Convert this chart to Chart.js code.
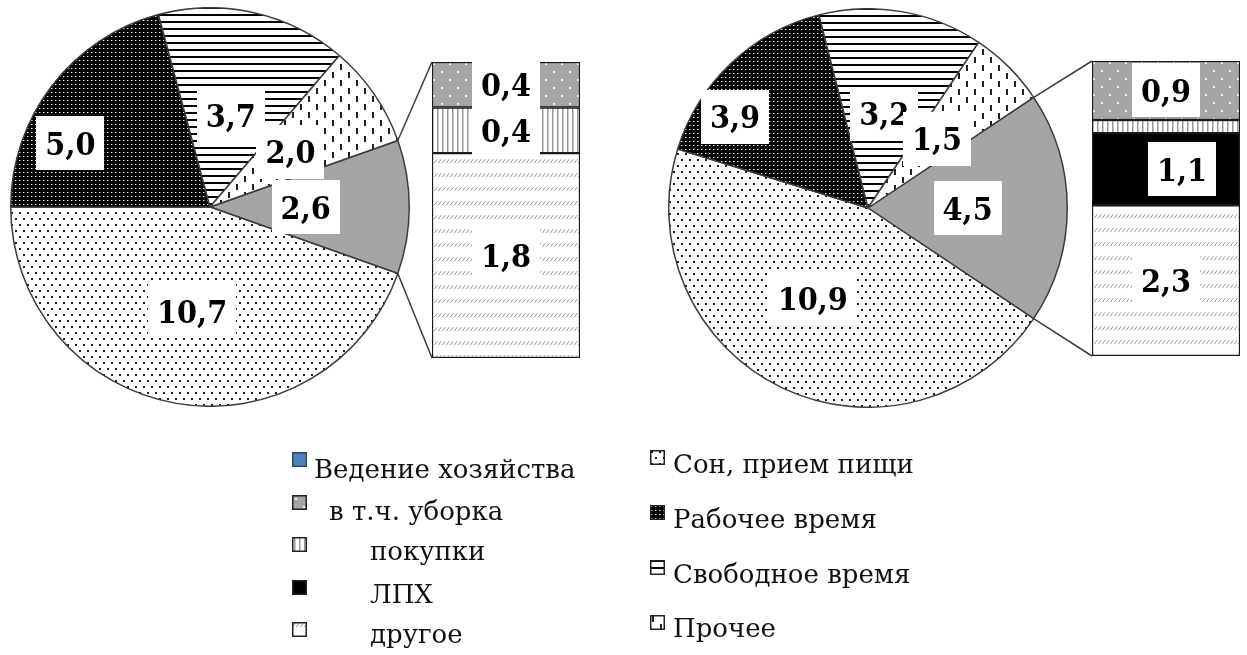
<!DOCTYPE html>
<html><head><meta charset="utf-8">
<script src="https://cdn.jsdelivr.net/npm/chart.js@4.4.1/dist/chart.umd.min.js"></script>
<style>
html,body{margin:0;padding:0;background:#fff;}
#page{position:relative;width:1247px;height:655px;overflow:hidden;background:#fff;}
#page canvas{position:absolute;}
.lg{position:absolute;font-family:"DejaVu Serif",serif;font-size:26px;line-height:26px;color:#111;white-space:nowrap;}
</style>
</head><body>
<div id="page">
  <canvas id="pieL" width="400" height="400" style="left:10px;top:7px;width:400px;height:400px"></canvas>
  <canvas id="barL" width="152" height="300" style="left:430px;top:60px;width:152px;height:300px"></canvas>
  <canvas id="pieR" width="400" height="400" style="left:668px;top:8px;width:400px;height:400px"></canvas>
  <canvas id="barR" width="152" height="299" style="left:1090px;top:59px;width:152px;height:299px"></canvas>
  <canvas id="links" width="1247" height="655" style="left:0;top:0;width:1247px;height:655px;pointer-events:none"></canvas>
</div>
<script>
// ---------- data ----------
const pieCategories = ['Ведение хозяйства', 'Сон, прием пищи', 'Рабочее время', 'Свободное время', 'Прочее'];
const pieLeftValues  = [2.6, 10.7, 5.0, 3.7, 2.0];
const pieRightValues = [4.5, 10.9, 3.9, 3.2, 1.5];
const barCategories  = ['в т.ч. уборка', 'покупки', 'ЛПХ', 'другое'];
const barLeftValues  = [0.4, 0.4, 0, 1.8];
const barRightValues = [0.9, 0.2, 1.1, 2.3];

// ---------- patterns ----------
function makePattern(w, h, draw) {
  const c = document.createElement('canvas');
  c.width = w; c.height = h;
  const g = c.getContext('2d');
  draw(g, w, h);
  return g.createPattern(c, 'repeat');
}
const fills = {
  'Ведение хозяйства': '#a5a5a5',
  'Сон, прием пищи': makePattern(8, 12, (g, w, h) => {
    g.fillStyle = '#fff'; g.fillRect(0, 0, w, h);
    g.fillStyle = '#1e1e1e'; g.fillRect(1, 1, 2, 2); g.fillRect(5, 7, 2, 2);
  }),
  'Рабочее время': makePattern(4, 4, (g, w, h) => {
    g.fillStyle = '#000'; g.fillRect(0, 0, w, h);
    g.fillStyle = '#fff'; g.fillRect(1, 1, 1, 1);
    g.fillStyle = '#6a6a6a'; g.fillRect(2, 1, 1, 1);
  }),
  'Свободное время': makePattern(8, 7, (g, w, h) => {
    g.fillStyle = '#fff'; g.fillRect(0, 0, w, h);
    g.fillStyle = '#000'; g.fillRect(0, 0, w, 2);
  }),
  'Прочее': makePattern(16, 16, (g, w, h) => {
    g.fillStyle = '#fff'; g.fillRect(0, 0, w, h);
    g.fillStyle = '#222'; g.fillRect(2, 1, 2, 6); g.fillRect(10, 9, 2, 6);
  }),
  'в т.ч. уборка': makePattern(16, 16, (g, w, h) => {
    g.fillStyle = '#a5a5a5'; g.fillRect(0, 0, w, h);
    g.fillStyle = '#f2f2f2'; g.fillRect(3, 3, 2, 2); g.fillRect(11, 11, 2, 2);
  }),
  'покупки': makePattern(5, 5, (g, w, h) => {
    g.fillStyle = '#fff'; g.fillRect(0, 0, w, h);
    g.fillStyle = '#999'; g.fillRect(2, 0, 1.5, h);
  }),
  'ЛПХ': '#000',
  'другое': makePattern(4, 14, (g, w, h) => {
    g.fillStyle = '#fff'; g.fillRect(0, 0, w, h);
    g.strokeStyle = '#9a9a9a'; g.lineWidth = 1;
    g.beginPath(); g.moveTo(0.2, 5.2); g.lineTo(3.3, 1.2); g.stroke();
  })
};

// ---------- label plugin ----------
const fmt = v => v.toFixed(1).replace('.', ',');
const LABEL_FONT = 'bold 32px "DejaVu Serif Condensed", "DejaVu Serif", serif';
function drawBoxLabel(ctx, text, cx, cy) {
  ctx.save();
  ctx.font = LABEL_FONT;
  try { ctx.fontStretch = 'condensed'; } catch (e) {}
  const tw = ctx.measureText(text).width;
  const bw = tw + 18, bh = 54;
  ctx.fillStyle = '#fff';
  ctx.fillRect(Math.round(cx - bw / 2), Math.round(cy - bh / 2), Math.round(bw), bh);
  ctx.fillStyle = '#000';
  ctx.textAlign = 'center';
  ctx.textBaseline = 'alphabetic';
  ctx.fillText(text, cx, cy + 11.5);
  ctx.restore();
}
const boxLabels = {
  id: 'boxLabels',
  afterDatasetsDraw(chart, args, opts) {
    const ctx = chart.ctx;
    const minShown = opts.minShown || 0;
    chart.data.datasets.forEach((ds, di) => {
      const meta = chart.getDatasetMeta(di);
      meta.data.forEach((el, i) => {
        const v = ds.data[i];
        if (!v || v < minShown) return;
        if (chart.config.type === 'pie') {
          const p = el.getProps(['x', 'y', 'startAngle', 'endAngle', 'outerRadius'], true);
          const place = (opts.place && opts.place[i]) || [0.5, 0];
          const a = (p.startAngle + p.endAngle) / 2 + place[1] * Math.PI / 180;
          const r = p.outerRadius * place[0];
          drawBoxLabel(ctx, fmt(v), p.x + Math.cos(a) * r, p.y + Math.sin(a) * r);
        } else {
          const p = el.getProps(['x', 'y', 'base'], true);
          const dx = (opts.shift && opts.shift[ds.label]) || 0;
          drawBoxLabel(ctx, fmt(v), p.x + dx, (p.y + p.base) / 2);
        }
      });
    });
  }
};

// ---------- pies ----------
function pieChart(id, values, place) {
  const total = values.reduce((a, b) => a + b, 0);
  const rotation = 90 - (values[0] / total * 360) / 2;
  return new Chart(document.getElementById(id), {
    type: 'pie',
    data: {
      labels: pieCategories,
      datasets: [{
        data: values,
        backgroundColor: pieCategories.map(c => fills[c]),
        borderColor: '#3c3c3c',
        borderWidth: 1.5,
        hoverOffset: 0
      }]
    },
    options: {
      responsive: false, animation: false, events: [],
      rotation: rotation,
      layout: { padding: 0 },
      plugins: { legend: { display: false }, tooltip: { enabled: false }, boxLabels: { place } }
    },
    plugins: [boxLabels]
  });
}
const pieL = pieChart('pieL', pieLeftValues, [[0.48, 0], [0.53, 0], [0.77, -13], [0.47, 0], [0.49, 0]]);
const pieR = pieChart('pieR', pieRightValues, [[0.5, 0], [0.53, 6], [0.81, -12], [0.48, 0], [0.49, 0]]);

// ---------- bars ----------
function barChart(id, values, shift) {
  const total = values.reduce((a, b) => a + b, 0);
  const datasets = barCategories.map((c, i) => ({
    label: c,
    data: [values[i]],
    backgroundColor: fills[c],
    borderColor: '#1a1a1a',
    borderWidth: 1.5,
    borderSkipped: false,
    barPercentage: 1,
    categoryPercentage: 1
  })).reverse();
  return new Chart(document.getElementById(id), {
    type: 'bar',
    data: { labels: [''], datasets },
    options: {
      responsive: false, animation: false, events: [],
      layout: { padding: 2 },
      plugins: { legend: { display: false }, tooltip: { enabled: false }, boxLabels: { shift, minShown: 0.3 } },
      scales: {
        x: { display: false, stacked: true },
        y: { display: false, stacked: true, min: 0, max: total }
      }
    },
    plugins: [boxLabels]
  });
}
const barL = barChart('barL', barLeftValues, {});
const barR = barChart('barR', barRightValues, { 'ЛПХ': 16 });

// ---------- connector lines (computed from the charts' elements) ----------
function pagePoint(chart, x, y) {
  const c = chart.canvas;
  return { x: c.offsetLeft + x, y: c.offsetTop + y };
}
function connectors(pie, bar) {
  const arc = pie.getDatasetMeta(0).data[0].getProps(['x', 'y', 'startAngle', 'endAngle', 'outerRadius'], true);
  const p1 = pagePoint(pie, arc.x + Math.cos(arc.startAngle) * arc.outerRadius, arc.y + Math.sin(arc.startAngle) * arc.outerRadius);
  const p2 = pagePoint(pie, arc.x + Math.cos(arc.endAngle) * arc.outerRadius, arc.y + Math.sin(arc.endAngle) * arc.outerRadius);
  const n = bar.data.datasets.length;
  const topEl = bar.getDatasetMeta(n - 1).data[0].getProps(['x', 'y', 'width'], true);
  const botEl = bar.getDatasetMeta(0).data[0].getProps(['x', 'base', 'width'], true);
  const b1 = pagePoint(bar, topEl.x - topEl.width / 2, topEl.y);
  const b2 = pagePoint(bar, botEl.x - botEl.width / 2, botEl.base);
  return [[p1, b1], [p2, b2]];
}
const segs = connectors(pieL, barL).concat(connectors(pieR, barR));
new Chart(document.getElementById('links'), {
  type: 'scatter',
  data: {
    datasets: segs.map(s => ({
      data: s, showLine: true, borderColor: '#3c3c3c', borderWidth: 1.5, pointRadius: 0
    }))
  },
  options: {
    responsive: false, animation: false, events: [],
    layout: { padding: 0 },
    plugins: { legend: { display: false }, tooltip: { enabled: false } },
    scales: {
      x: { type: 'linear', display: false, min: 0, max: 1247 },
      y: { type: 'linear', display: false, min: 0, max: 655, reverse: true }
    }
  }
});

// ---------- legend ----------
const legendLeft  = ['Ведение хозяйства'].concat(barCategories);
const legendRight = pieCategories.slice(1);
const legendLeftPos  = [[292, 452, 314, 478], [292, 495, 329, 520], [292, 537, 370, 560], [292, 580, 370, 603], [292, 622, 370, 643]];
const legendRightPos = [[650, 450, 673, 473], [650, 505, 673, 528], [650, 560, 673, 583], [650, 615, 673, 637]];
const page = document.getElementById('page');
function addLegend(name, pos, fill) {
  const ic = document.createElement('canvas');
  ic.width = 15; ic.height = 15;
  ic.style.left = pos[0] + 'px'; ic.style.top = pos[1] + 'px';
  const g = ic.getContext('2d');
  g.fillStyle = fill; g.fillRect(0, 0, 15, 15);
  g.strokeStyle = name === 'Ведение хозяйства' ? '#2a4a70' : '#222';
  g.lineWidth = 1.5; g.strokeRect(0.75, 0.75, 13.5, 13.5);
  page.appendChild(ic);
  const t = document.createElement('div');
  t.className = 'lg';
  t.textContent = name;
  t.style.left = pos[2] + 'px';
  t.style.top = (pos[3] - 22) + 'px';
  page.appendChild(t);
}
legendLeft.forEach((n, i) => addLegend(n, legendLeftPos[i], n === 'Ведение хозяйства' ? '#4f81bd' : fills[n]));
legendRight.forEach((n, i) => addLegend(n, legendRightPos[i], fills[n]));
</script>
</body></html>
